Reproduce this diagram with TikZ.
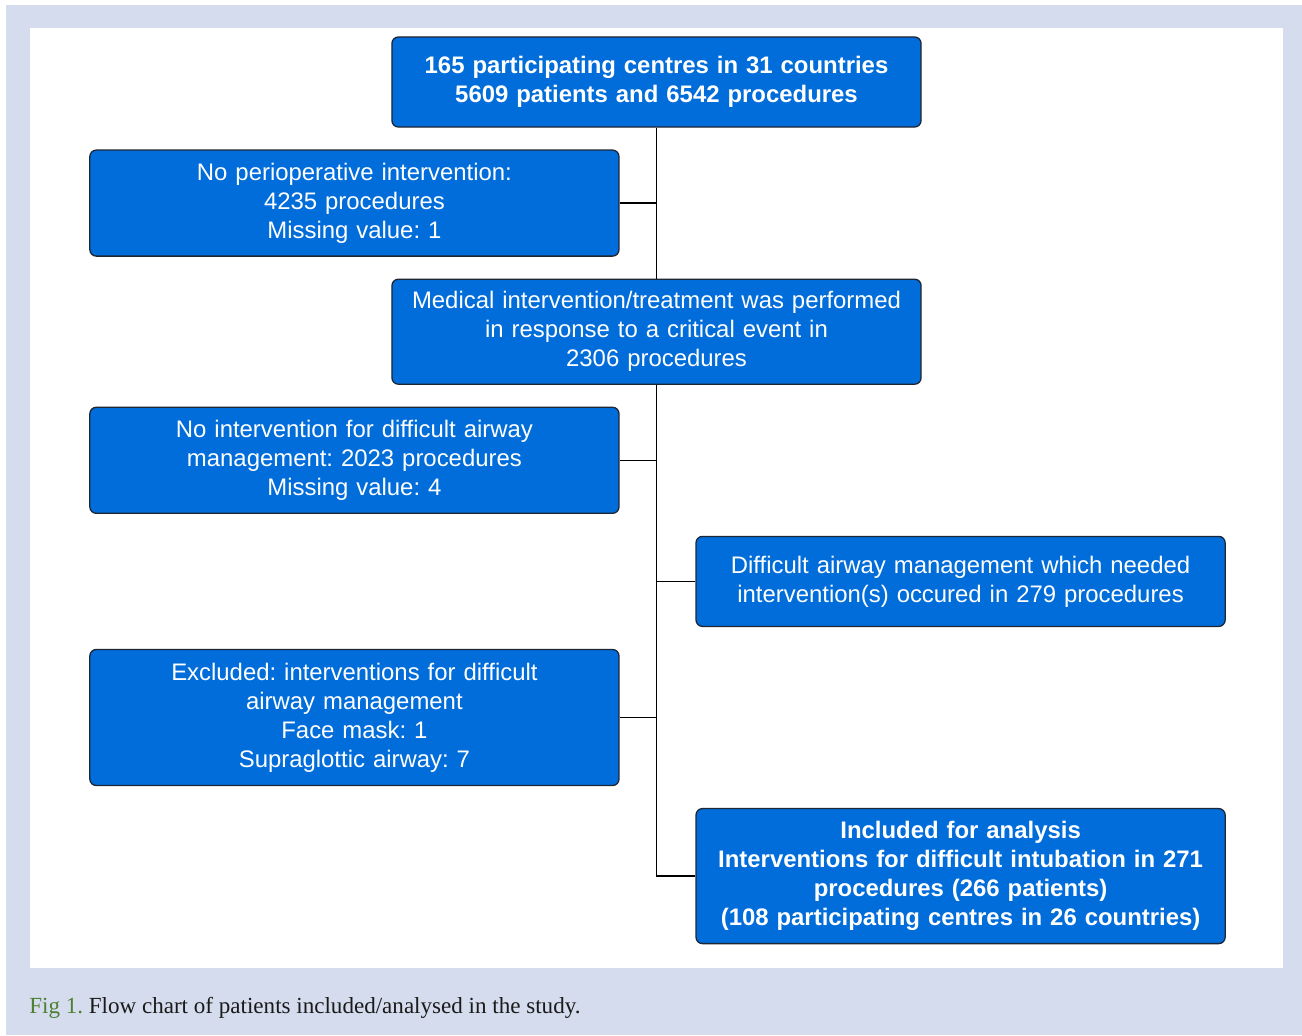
\documentclass[tikz,border=0pt]{standalone}
\usepackage{fontspec}
\setmainfont{Liberation Sans}
\newfontfamily\capfont{Liberation Serif}
\usetikzlibrary{positioning}
\definecolor{boxblue}{HTML}{006DDA}
\definecolor{boxline}{HTML}{1E2633}
\definecolor{panelblue}{HTML}{D4DCEE}
\definecolor{figgreen}{HTML}{4E7F32}
\definecolor{captext}{HTML}{1A1A1A}
\frenchspacing

\begin{document}
\begin{tikzpicture}[
    x=0.025cm, y=-0.025cm,
    node distance=0.545cm,
    flowbox/.style={rectangle, draw=boxline, line width=0.9pt, fill=boxblue, text=white, rounded corners=0.16cm,
        text width=12.625cm, align=center, inner xsep=0.3cm, inner ysep=0.1cm,
        font=\fontsize{17pt}{20.6pt}\selectfont},
    link/.style={draw=black, line width=0.9pt},
]
% frame and caption
\useasboundingbox (0,0) rectangle (1302,1035);
\fill[panelblue] (6,5) rectangle (1302,1035);
\fill[white] (30,28) rectangle (1283,968);
\node[anchor=base west, inner sep=0pt, font=\capfont\fontsize{16.4pt}{19pt}\selectfont, text=captext] (caption) at (29,1013)
    {\textcolor{figgreen}{Fig 1.} Flow chart of patients included/analysed in the study.};

% boxes
\node[flowbox, minimum height=2.25cm] (centres) at (656.5,82)
    {\textbf{165 participating centres in 31 countries}\\\textbf{5609 patients and 6542 procedures}};
\node[flowbox, minimum height=2.65cm, below=of centres, xshift=-7.55cm] (nointerv)
    {No perioperative intervention:\\4235 procedures\\Missing value: 1};
\node[flowbox, minimum height=2.625cm, below=of nointerv, xshift=7.55cm] (medical)
    {Medical intervention/treatment was performed\\in response to a critical event in\\2306 procedures};
\node[flowbox, minimum height=2.65cm, below=of medical, xshift=-7.55cm] (noairway)
    {No intervention for difficult airway\\management: 2023 procedures\\Missing value: 4};
\node[flowbox, minimum height=2.25cm, below=of noairway, xshift=15.15cm] (difficult)
    {Difficult airway management which needed\\intervention(s) occured in 279 procedures};
\node[flowbox, minimum height=3.4cm, below=of difficult, xshift=-15.15cm] (excluded)
    {Excluded: interventions for difficult\\airway management\\Face mask: 1\\Supraglottic airway: 7};
\node[flowbox, minimum height=3.375cm, below=of excluded, xshift=15.15cm] (included)
    {\textbf{Included for analysis}\\\textbf{Interventions for difficult intubation in 271}\\\textbf{procedures (266 patients)}\\\textbf{(108 participating centres in 26 countries)}};

% connectors
\draw[link] (centres.south) -- (medical.north);
\draw[link] (nointerv.east) -- (nointerv.east -| centres.south);
\draw[link] (medical.south) |- (included.west);
\draw[link] (noairway.east) -- (noairway.east -| medical.south);
\draw[link] (difficult.west -| medical.south) -- (difficult.west);
\draw[link] (excluded.east) -- (excluded.east -| medical.south);
\end{tikzpicture}
\end{document}
